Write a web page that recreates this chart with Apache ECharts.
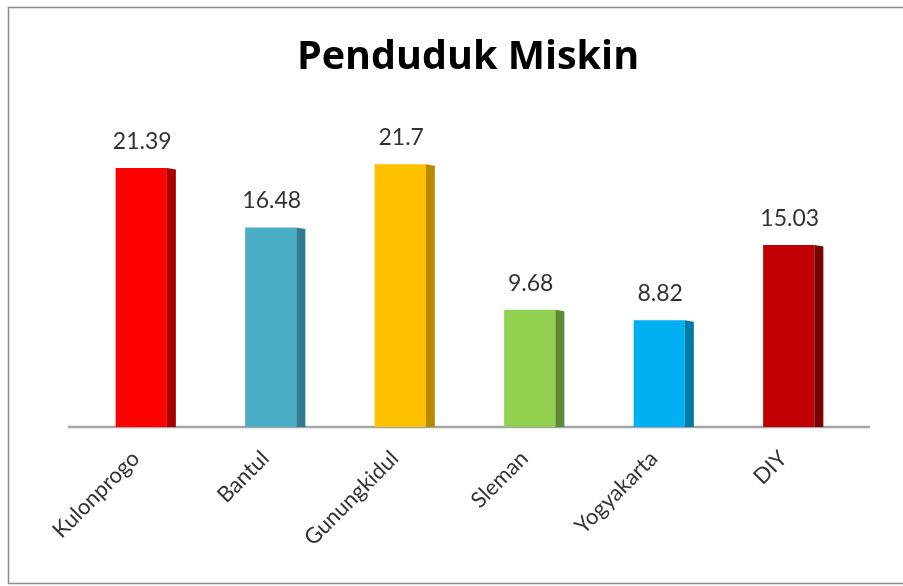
<!DOCTYPE html>
<html>
<head>
<meta charset="utf-8">
<script src="https://cdn.jsdelivr.net/npm/echarts@6/dist/echarts.min.js"></script>
<style>
html,body{margin:0;padding:0;background:#fff;}
#main{width:903px;height:586px;}
</style>
</head>
<body>
<div id="main"></div>
<script>
var titleText = 'Penduduk Miskin';
var categories = ['Kulonprogo', 'Bantul', 'Gunungkidul', 'Sleman', 'Yogyakarta', 'DIY'];
var values = [21.39, 16.48, 21.7, 9.68, 8.82, 15.03];
var frontColors = ['#FF0000', '#4BACC6', '#FFC000', '#92D050', '#00B0F0', '#C00000'];
var sideColors = ['#A80000', '#2E7A8E', '#B88A00', '#5E8A32', '#007AA6', '#7A0000'];

var chart = echarts.init(document.getElementById('main'));
var FONT = 'Lato, "Open Sans", sans-serif';

function renderBar(params, api) {
  var idx = api.value(0);
  var top = api.coord([idx, api.value(1)]);
  var base = api.coord([idx, 0]);
  var bw = api.size([1, 0])[0];
  var total = bw * 0.465;
  var side = total * 0.15;
  var front = total - side;
  var x0 = top[0] - total / 2;
  return {
    type: 'group',
    children: [
      {
        type: 'rect',
        shape: { x: x0, y: top[1], width: front, height: base[1] - top[1] },
        style: { fill: frontColors[idx] }
      },
      {
        type: 'polygon',
        shape: { points: [[x0 + front, top[1]], [x0 + total, top[1] + 1.5], [x0 + total, base[1]], [x0 + front, base[1]]] },
        style: { fill: sideColors[idx] }
      },
      {
        type: 'text',
        style: {
          text: String(api.value(1)),
          x: x0 + front / 2 + 1,
          y: top[1] - 15,
          align: 'center',
          verticalAlign: 'bottom',
          fill: '#333333',
          font: '23px ' + FONT
        }
      }
    ]
  };
}

var data = values.map(function (v, i) { return [i, v]; });

chart.setOption({
  animation: false,
  backgroundColor: '#ffffff',
  title: {
    text: titleText,
    left: 463,
    textAlign: 'center',
    top: 33,
    textStyle: { fontFamily: '"Open Sans", Lato, sans-serif', fontWeight: 'bold', fontSize: 39.5, color: '#000000' }
  },
  grid: { left: 81, right: 45, top: 100, bottom: 159 },
  xAxis: {
    type: 'category',
    data: categories,
    axisLine: { show: false },
    axisTick: { show: false },
    axisLabel: {
      rotate: 45,
      interval: 0,
      margin: 18,
      padding: [0, 14, 0, 0],
      fontSize: 22,
      fontFamily: FONT,
      color: '#333333'
    }
  },
  yAxis: {
    type: 'value',
    min: 0,
    max: 27,
    show: false,
    splitLine: { show: false }
  },
  series: [{
    type: 'custom',
    renderItem: renderBar,
    encode: { x: 0, y: 1 },
    data: data
  }]
});

var baseY = chart.convertToPixel({ gridIndex: 0 }, [0, 0])[1];
chart.setOption({
  graphic: [
    {
      type: 'rect',
      shape: { x: 8.5, y: 7.5, width: 900, height: 576 },
      style: { fill: null, stroke: '#8c8c8c', lineWidth: 1.5 },
      silent: true
    },
    {
      type: 'line',
      shape: { x1: 68, y1: baseY, x2: 870, y2: baseY },
      style: { stroke: '#a6a6a6', lineWidth: 2.5 },
      silent: true
    }
  ]
});
</script>
</body>
</html>
